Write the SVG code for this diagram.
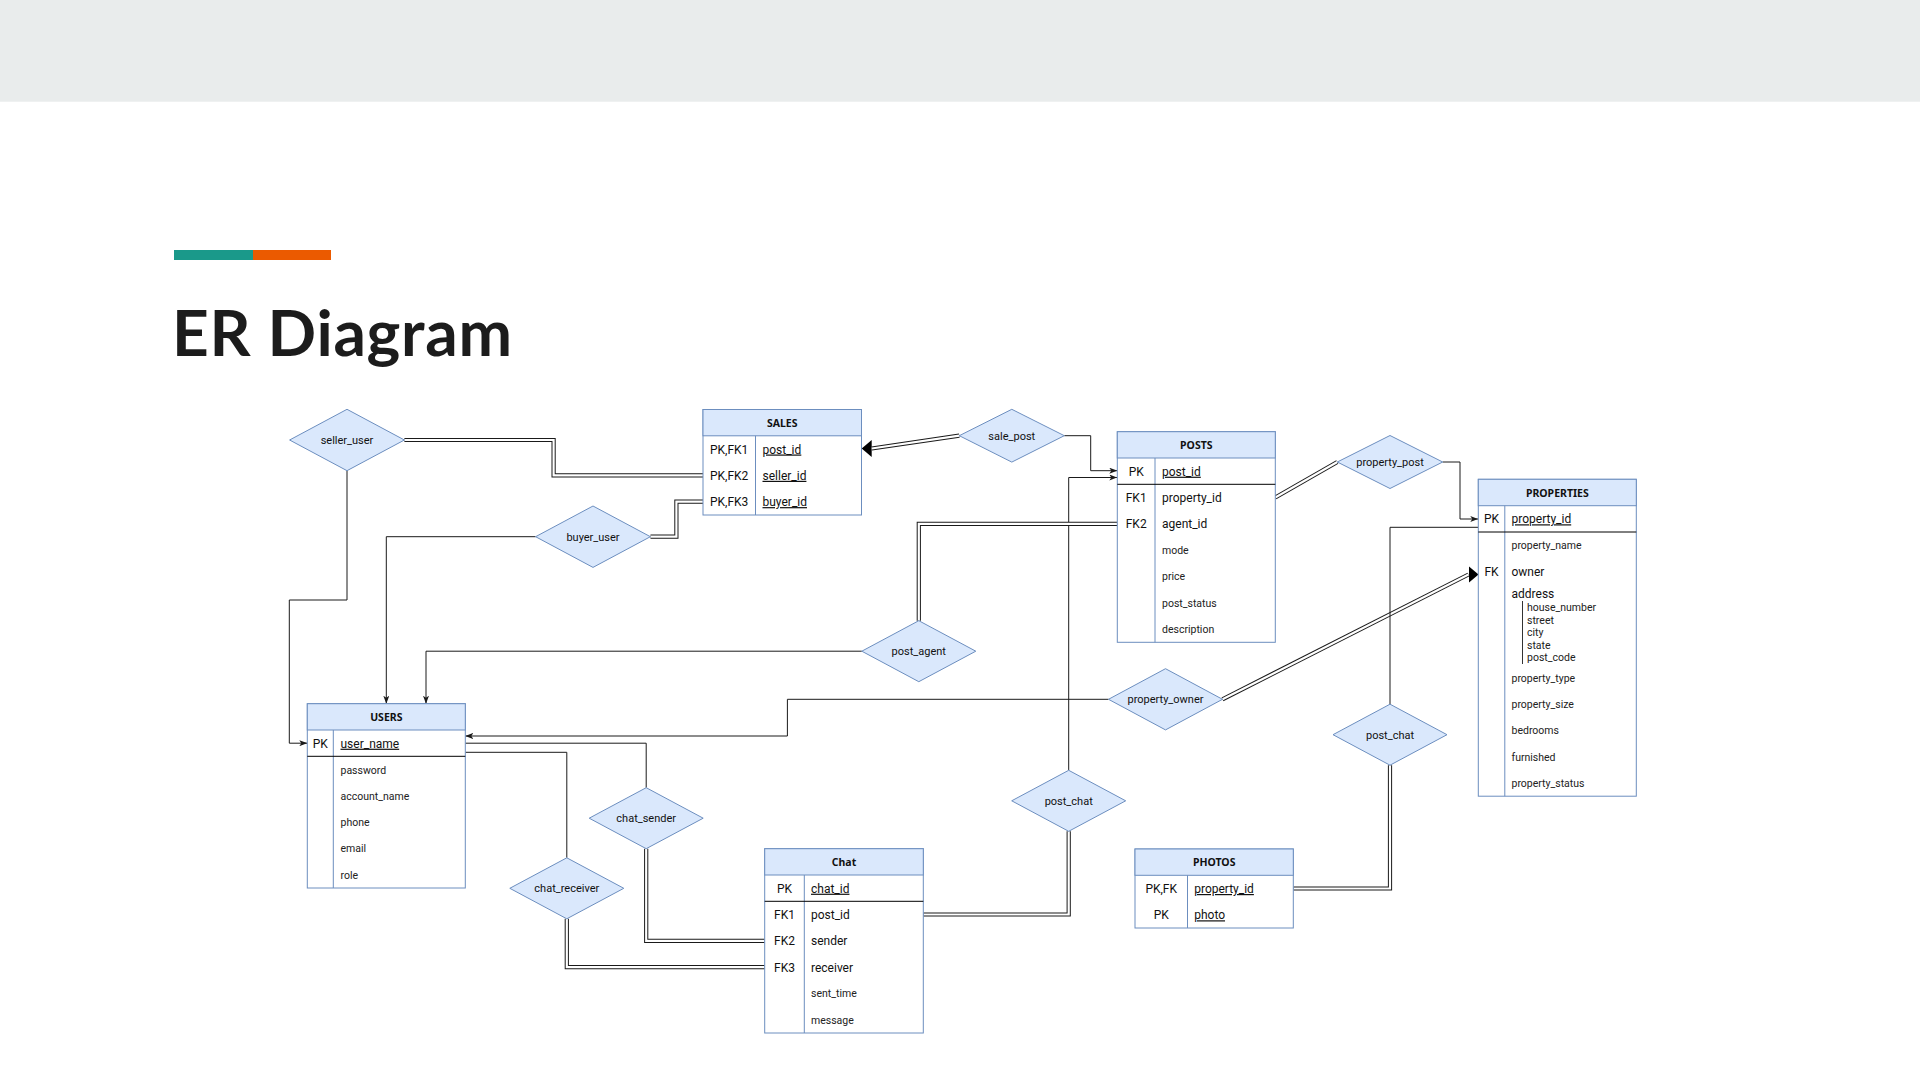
<svg xmlns="http://www.w3.org/2000/svg" width="1920" height="1080" viewBox="0 0 1920 1080">
<defs>
<style>
.bg{fill:#ffffff}
.band{fill:#e9ecec}
.title{font-family:Lato,"Open Sans","Liberation Sans",sans-serif;font-weight:700;font-size:64px;fill:#1c1c1c}
.box{fill:#ffffff;stroke:#6c8ebf;stroke-width:1}
.hdr{fill:#dae8fc;stroke:#6c8ebf;stroke-width:1}
.div{stroke:#6c8ebf;stroke-width:1}
.pkl{stroke:#000000;stroke-width:1}
.sub{stroke:#333333;stroke-width:1}
.rel{fill:#dae8fc;stroke:#6c8ebf;stroke-width:1}
.th{font-family:"Noto Sans","Open Sans","Liberation Sans",sans-serif;font-weight:700;font-size:10.5px;fill:#111;text-anchor:middle}
.tk{font-family:Roboto,"Liberation Sans",sans-serif;font-size:12px;fill:#111}
.tkc{font-family:Roboto,"Liberation Sans",sans-serif;font-size:12px;fill:#111;text-anchor:middle}
.ta{font-family:Roboto,"Liberation Sans",sans-serif;font-size:10.5px;fill:#222}
.ts{font-family:Roboto,"Liberation Sans",sans-serif;font-size:10.5px;fill:#222}
.u{text-decoration:underline}
.tr{font-family:Roboto,"Liberation Sans",sans-serif;font-size:11px;fill:#111;text-anchor:middle}
.ln{fill:none;stroke:#1a1a1a;stroke-width:1}
.dbo{fill:none;stroke:#1a1a1a;stroke-width:4.2}
.dbi{fill:none;stroke:#ffffff;stroke-width:2.2}
</style>
<marker id="arr" markerUnits="userSpaceOnUse" viewBox="0 0 8 6" markerWidth="8" markerHeight="6" refX="8" refY="3" orient="auto">
<path d="M0,0 L8,3 L0,6 L2,3 z" fill="#1a1a1a"/>
</marker>
<marker id="bigR" markerUnits="userSpaceOnUse" viewBox="0 0 10 17" markerWidth="10" markerHeight="17" refX="0" refY="8.5" orient="0">
<path d="M0,0 L10,8.5 L0,17 z" fill="#000"/>
</marker>
<marker id="bigL" markerUnits="userSpaceOnUse" viewBox="0 0 10 17" markerWidth="10" markerHeight="17" refX="0" refY="8.5" orient="180">
<path d="M0,0 L10,8.5 L0,17 z" fill="#000"/>
</marker>
</defs>

<rect class="bg" x="0" y="0" width="1920" height="1080"/>
<rect class="band" x="0" y="0" width="1920" height="101.7"/>
<rect x="174" y="250" width="79" height="10" fill="#1a998a"/>
<rect x="253" y="250" width="78" height="10" fill="#eb5a00"/>
<text class="title" x="172" y="356" textLength="340">ER Diagram</text>

<g id="connectors">
<path class="dbo" d="M404.4 440 L553.6 440 L553.6 475.3 L703 475.3"/>
<path class="dbi" d="M404.4 440 L553.6 440 L553.6 475.3 L703 475.3"/>
<path class="ln" d="M347 470.7 L347 600 L289.3 600 L289.3 743.2 L307.3 743.2" marker-end="url(#arr)"/>
<path class="dbo" d="M650.5 536.7 L676.4 536.7 L676.4 501.6 L703 501.6"/>
<path class="dbi" d="M650.5 536.7 L676.4 536.7 L676.4 501.6 L703 501.6"/>
<path class="ln" d="M535.6 536.7 L386.3 536.7 L386.3 703.7" marker-end="url(#arr)"/>
<path class="dbo" d="M959.3 435.7 L871.7 448.5" marker-end="url(#bigL)"/>
<path class="dbi" d="M959.3 435.7 L871.7 448.5"/>
<path class="ln" d="M1064.3 435.7 L1090.7 435.7 L1090.7 470.7 L1117.3 470.7" marker-end="url(#arr)"/>
<path class="ln" d="M1068.7 770.3 L1068.7 477.5 L1117.3 477.5" marker-end="url(#arr)"/>
<path class="dbo" d="M1068.7 831.3 L1068.7 914.5 L923.3 914.5"/>
<path class="dbi" d="M1068.7 831.3 L1068.7 914.5 L923.3 914.5"/>
<path class="dbo" d="M918.8 620.7 L918.8 523.8 L1117.3 523.8"/>
<path class="dbi" d="M918.8 620.7 L918.8 523.8 L1117.3 523.8"/>
<path class="ln" d="M861.8 651.2 L426 651.2 L426 703.7" marker-end="url(#arr)"/>
<path class="dbo" d="M1337.3 462 L1275.3 497.5"/>
<path class="dbi" d="M1337.3 462 L1275.3 497.5"/>
<path class="ln" d="M1442.7 462 L1460 462 L1460 519 L1478.3 519" marker-end="url(#arr)"/>
<path class="dbo" d="M1222.5 699.3 L1468.5 574.5" marker-end="url(#bigR)"/>
<path class="dbi" d="M1222.5 699.3 L1468.5 574.5"/>
<path class="ln" d="M1108.5 699.3 L787.4 699.3 L787.4 736 L465.3 736" marker-end="url(#arr)"/>
<path class="ln" d="M1390 704.2 L1390 527.3 L1478.3 527.3"/>
<path class="dbo" d="M1390 765.2 L1390 888.5 L1293.3 888.5"/>
<path class="dbi" d="M1390 765.2 L1390 888.5 L1293.3 888.5"/>
<path class="ln" d="M646.2 787.7 L646.2 743.2 L465.3 743.2"/>
<path class="dbo" d="M646.2 848.7 L646.2 940.8 L764.7 940.8"/>
<path class="dbi" d="M646.2 848.7 L646.2 940.8 L764.7 940.8"/>
<path class="ln" d="M566.8 857.8 L566.8 752.3 L465.3 752.3"/>
<path class="dbo" d="M566.8 918.8 L566.8 967.1 L764.7 967.1"/>
<path class="dbi" d="M566.8 918.8 L566.8 967.1 L764.7 967.1"/>
</g>

<g id="seller_user">
<polygon class="rel" points="289.6,440 347,409.3 404.4,440 347,470.7"/>
<text class="tr" x="347" y="444">seller_user</text>
</g>
<g id="buyer_user">
<polygon class="rel" points="535.6,536.7 593,506 650.4,536.7 593,567.4"/>
<text class="tr" x="593" y="540.7">buyer_user</text>
</g>
<g id="sale_post">
<polygon class="rel" points="959.3,435.7 1011.8,409.3 1064.3,435.7 1011.8,462.1"/>
<text class="tr" x="1011.8" y="439.7">sale_post</text>
</g>
<g id="post_agent">
<polygon class="rel" points="861.8,651.2 918.8,620.7 975.8,651.2 918.8,681.7"/>
<text class="tr" x="918.8" y="655.2">post_agent</text>
</g>
<g id="property_post">
<polygon class="rel" points="1337.3,462 1390,435.5 1442.7,462 1390,488.5"/>
<text class="tr" x="1390" y="466">property_post</text>
</g>
<g id="property_owner">
<polygon class="rel" points="1108.5,699.3 1165.5,668.7 1222.5,699.3 1165.5,729.9"/>
<text class="tr" x="1165.5" y="703.3">property_owner</text>
</g>
<g id="post_chat">
<polygon class="rel" points="1011.7,800.8 1068.7,770.3 1125.7,800.8 1068.7,831.3"/>
<text class="tr" x="1068.7" y="804.8">post_chat</text>
</g>
<g id="post_chat_photos">
<polygon class="rel" points="1333,734.7 1390,704.2 1447,734.7 1390,765.2"/>
<text class="tr" x="1390" y="738.7">post_chat</text>
</g>
<g id="chat_sender">
<polygon class="rel" points="589.2,818.2 646.2,787.7 703.2,818.2 646.2,848.7"/>
<text class="tr" x="646.2" y="822.2">chat_sender</text>
</g>
<g id="chat_receiver">
<polygon class="rel" points="509.8,888.3 566.8,857.8 623.8,888.3 566.8,918.8"/>
<text class="tr" x="566.8" y="892.3">chat_receiver</text>
</g>

<g id="sales">
<rect class="box" x="703" y="409.5" width="158.5" height="105.5"/>
<rect class="hdr" x="703" y="409.5" width="158.5" height="26.3"/>
<line class="div" x1="755.5" y1="435.8" x2="755.5" y2="515"/>
<text class="th" x="782.2" y="426.5">SALES</text>
<text class="tkc" x="729.2" y="453.5">PK,FK1</text>
<text class="tk u" x="762.5" y="453.5">post_id</text>
<text class="tkc" x="729.2" y="479.8">PK,FK2</text>
<text class="tk u" x="762.5" y="479.8">seller_id</text>
<text class="tkc" x="729.2" y="506.1">PK,FK3</text>
<text class="tk u" x="762.5" y="506.1">buyer_id</text>
</g>

<g id="posts">
<rect class="box" x="1117.3" y="431.7" width="158" height="210.6"/>
<rect class="hdr" x="1117.3" y="431.7" width="158" height="26.3"/>
<line class="div" x1="1155" y1="458" x2="1155" y2="642.3"/>
<line class="pkl" x1="1117.3" y1="484.3" x2="1275.3" y2="484.3"/>
<text class="th" x="1196.3" y="448.7">POSTS</text>
<text class="tkc" x="1136.2" y="475.7">PK</text>
<text class="tk u" x="1162" y="475.7">post_id</text>
<text class="tkc" x="1136.2" y="502">FK1</text>
<text class="tk" x="1162" y="502">property_id</text>
<text class="tkc" x="1136.2" y="528.3">FK2</text>
<text class="tk" x="1162" y="528.3">agent_id</text>
<text class="ta" x="1162" y="554.1">mode</text>
<text class="ta" x="1162" y="580.4">price</text>
<text class="ta" x="1162" y="606.7">post_status</text>
<text class="ta" x="1162" y="633">description</text>
</g>

<g id="properties">
<rect class="box" x="1478.3" y="479.3" width="158" height="316.9"/>
<rect class="hdr" x="1478.3" y="479.3" width="158" height="26.4"/>
<line class="div" x1="1504.8" y1="505.7" x2="1504.8" y2="796.2"/>
<line class="pkl" x1="1478.3" y1="532" x2="1636.3" y2="532"/>
<text class="th" x="1557.3" y="496.5">PROPERTIES</text>
<text class="tkc" x="1491.5" y="523.3">PK</text>
<text class="tk u" x="1511.5" y="523.3">property_id</text>
<text class="ta" x="1511.5" y="549.2">property_name</text>
<text class="tkc" x="1491.5" y="576">FK</text>
<text class="tk" x="1511.5" y="576">owner</text>
<text class="tk" x="1511.5" y="598.3">address</text>
<line class="sub" x1="1522.5" y1="601" x2="1522.5" y2="664"/>
<text class="ts" x="1527" y="611">house_number</text>
<text class="ts" x="1527" y="623.6">street</text>
<text class="ts" x="1527" y="636.2">city</text>
<text class="ts" x="1527" y="648.8">state</text>
<text class="ts" x="1527" y="661.4">post_code</text>
<text class="ta" x="1511.5" y="681.5">property_type</text>
<text class="ta" x="1511.5" y="708">property_size</text>
<text class="ta" x="1511.5" y="734.3">bedrooms</text>
<text class="ta" x="1511.5" y="760.7">furnished</text>
<text class="ta" x="1511.5" y="787">property_status</text>
</g>

<g id="users">
<rect class="box" x="307.3" y="703.7" width="158" height="184.3"/>
<rect class="hdr" x="307.3" y="703.7" width="158" height="26.3"/>
<line class="div" x1="333.3" y1="730" x2="333.3" y2="888"/>
<line class="pkl" x1="307.3" y1="756.3" x2="465.3" y2="756.3"/>
<text class="th" x="386.3" y="720.7">USERS</text>
<text class="tkc" x="320.3" y="747.7">PK</text>
<text class="tk u" x="340.5" y="747.7">user_name</text>
<text class="ta" x="340.5" y="773.5">password</text>
<text class="ta" x="340.5" y="799.8">account_name</text>
<text class="ta" x="340.5" y="826.1">phone</text>
<text class="ta" x="340.5" y="852.4">email</text>
<text class="ta" x="340.5" y="878.7">role</text>
</g>

<g id="chat">
<rect class="box" x="764.7" y="848.7" width="158.6" height="184.3"/>
<rect class="hdr" x="764.7" y="848.7" width="158.6" height="26.3"/>
<line class="div" x1="804.3" y1="875" x2="804.3" y2="1033"/>
<line class="pkl" x1="764.7" y1="901.3" x2="923.3" y2="901.3"/>
<text class="th" x="844" y="865.7">Chat</text>
<text class="tkc" x="784.5" y="892.7">PK</text>
<text class="tk u" x="811" y="892.7">chat_id</text>
<text class="tkc" x="784.5" y="919">FK1</text>
<text class="tk" x="811" y="919">post_id</text>
<text class="tkc" x="784.5" y="945.3">FK2</text>
<text class="tk" x="811" y="945.3">sender</text>
<text class="tkc" x="784.5" y="971.6">FK3</text>
<text class="tk" x="811" y="971.6">receiver</text>
<text class="ta" x="811" y="997.4">sent_time</text>
<text class="ta" x="811" y="1023.7">message</text>
</g>

<g id="photos">
<rect class="box" x="1135" y="849" width="158.3" height="79"/>
<rect class="hdr" x="1135" y="849" width="158.3" height="26.3"/>
<line class="div" x1="1187.5" y1="875.3" x2="1187.5" y2="928"/>
<text class="th" x="1214.2" y="866">PHOTOS</text>
<text class="tkc" x="1161.2" y="893">PK,FK</text>
<text class="tk u" x="1194.2" y="893">property_id</text>
<text class="tkc" x="1161.2" y="919.3">PK</text>
<text class="tk u" x="1194.2" y="919.3">photo</text>
</g>
</svg>
